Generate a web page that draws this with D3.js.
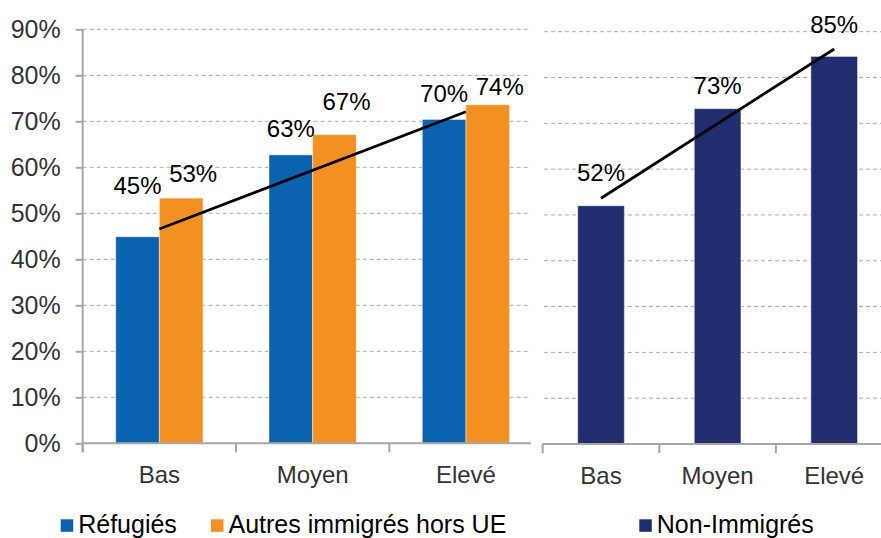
<!DOCTYPE html>
<html>
<head>
<meta charset="utf-8">
<script src="https://cdn.jsdelivr.net/npm/d3@7"></script>
<style>
  body { margin: 0; background: #fff; }
  text { font-family: "Liberation Sans", Arial, sans-serif; }
</style>
</head>
<body>
<script>
// data
var categories = ["Bas", "Moyen", "Elevé"];
var refugies = [44.9, 62.7, 70.4];
var autresHorsUE = [53.3, 67.1, 73.6];
var nonImmigres = [52.0, 73.2, 84.6];
var yTicks = [0, 10, 20, 30, 40, 50, 60, 70, 80, 90];
var legendNames = ["Réfugiés", "Autres immigrés hors UE", "Non-Immigrés"];

var blue = "#0B63B0", orange = "#F29121", navy = "#202D6E";
var gridColor = "#ababab", axisColor = "#a6a6a6", tickText = "#333";

// labels were hand placed in the original, gap above each bar in px
var liftRef = [43, 18, 17], liftAutres = [16, 25, 10], liftNon = [25, 15, 23];

var width = 881, height = 538;

var svg = d3.select("body").append("svg")
    .attr("width", width)
    .attr("height", height);

// scales
var yL = d3.scaleLinear().domain([0, 90]).range([443.3, 29.3]);
var yR = d3.scaleLinear().domain([0, 90]).range([444, 31.7]);
var xL = d3.scaleBand().domain(categories).range([82.7, 542.6]);
var xPair = d3.scaleBand().domain(["r", "a"]).range([0, xL.bandwidth()]).paddingOuter(0.756);
var xR = d3.scaleBand().domain(categories).range([542.7, 892.5]).paddingInner(0.6).paddingOuter(0.3);

// gridlines
svg.append("g").selectAll("line").data(yTicks.slice(1)).enter().append("line")
    .attr("x1", 82.7).attr("x2", 531)
    .attr("y1", d => yL(d)).attr("y2", d => yL(d))
    .attr("stroke", gridColor).attr("stroke-dasharray", "4,3");
svg.append("g").selectAll("line").data(yTicks.slice(1)).enter().append("line")
    .attr("x1", 544).attr("x2", width)
    .attr("y1", d => yR(d)).attr("y2", d => yR(d))
    .attr("stroke", gridColor).attr("stroke-dasharray", "4,3");

// bars
function drawBars(vals, xpos, w, scaleY, color) {
	svg.append("g").selectAll("rect").data(vals).enter().append("rect")
		.attr("x", (d, i) => xpos(i))
		.attr("width", w)
		.attr("y", d => scaleY(d))
		.attr("height", d => scaleY(0) - scaleY(d))
		.attr("fill", color)
		.attr("stroke", "rgba(255,255,255,0.45)")
		.attr("stroke-width", 1);
}
drawBars(refugies, i => xL(categories[i]) + xPair("r"), xPair.bandwidth(), yL, blue);
drawBars(autresHorsUE, i => xL(categories[i]) + xPair("a"), xPair.bandwidth(), yL, orange);
drawBars(nonImmigres, i => xR(categories[i]), xR.bandwidth(), yR, navy);

// value labels
function drawLabels(vals, xpos, scaleY, lift) {
	svg.append("g").selectAll("text").data(vals).enter().append("text")
		.attr("x", (d, i) => xpos(i))
		.attr("y", (d, i) => scaleY(d) - lift[i])
		.attr("text-anchor", "middle")
		.attr("font-size", 24)
		.attr("fill", "#000")
		.text(d => Math.round(d) + "%");
}
drawLabels(refugies, i => xL(categories[i]) + xPair("r") + xPair.bandwidth() / 2, yL, liftRef);
drawLabels(autresHorsUE, i => xL(categories[i]) + xPair("a") + xPair.bandwidth() / 2 + 12, yL, liftAutres);
drawLabels(nonImmigres, i => xR(categories[i]) + xR.bandwidth() / 2, yR, liftNon);

// linear trend (least squares over category index)
function trend(vals) {
	var n = vals.length;
	var mx = d3.mean(vals, (d, i) => i), my = d3.mean(vals);
	var sxy = d3.sum(vals, (d, i) => (i - mx) * (d - my));
	var sxx = d3.sum(vals, (d, i) => (i - mx) * (i - mx));
	var b = sxy / sxx, a = my - b * mx;
	return [0, n - 1].map(i => [i, a + b * i]);
}
var line = d3.line();
svg.append("path")
    .attr("d", line(trend(refugies).map(p => [xL(categories[p[0]]) + xL.bandwidth() / 2, yL(p[1])])))
    .attr("stroke", "#000").attr("stroke-width", 2.8).attr("fill", "none");
svg.append("path")
    .attr("d", line(trend(nonImmigres).map(p => [xR(categories[p[0]]) + xR.bandwidth() / 2, yR(p[1])])))
    .attr("stroke", "#000").attr("stroke-width", 2.8).attr("fill", "none");

// y axis (left panel only)
var yAxis = svg.append("g")
    .attr("transform", "translate(82.7,0)")
    .call(d3.axisLeft(yL).tickValues(yTicks).tickSize(7).tickPadding(15).tickFormat(d => d + "%"));
yAxis.select(".domain").remove();
yAxis.selectAll("line").attr("stroke", axisColor).attr("stroke-width", 2);
yAxis.selectAll("text").attr("font-size", 25).attr("fill", tickText)
    .style("font-family", "'Liberation Sans', Arial, sans-serif");
svg.append("line")
    .attr("x1", 82.7).attr("x2", 82.7).attr("y1", yL(90)).attr("y2", yL(0) + 9)
    .attr("stroke", axisColor).attr("stroke-width", 2);

// x axes
function xAxis(scale, x0, x1, y0, bounds) {
	svg.append("line")
		.attr("x1", x0).attr("x2", x1).attr("y1", y0).attr("y2", y0)
		.attr("stroke", axisColor).attr("stroke-width", 2);
	svg.append("g").selectAll("line").data(bounds).enter().append("line")
		.attr("x1", d => d).attr("x2", d => d)
		.attr("y1", y0).attr("y2", y0 + 9)
		.attr("stroke", axisColor).attr("stroke-width", 2);
	var g = svg.append("g")
		.attr("transform", "translate(0," + y0 + ")")
		.call(d3.axisBottom(scale).tickSize(0));
	g.select(".domain").remove();
	g.selectAll("text").attr("y", 40).attr("dy", 0)
		.attr("font-size", 24).attr("fill", tickText)
		.style("font-family", "'Liberation Sans', Arial, sans-serif");
}
xAxis(xL, 82.7, 531, yL(0), categories.map(c => xL(c)));
xAxis(xR, 542.7, width, yR(0), categories.map(c => xR(c) + xR.bandwidth() / 2 - xR.step() / 2));

// legend
var legendX = [60.7, 211, 639.3];
var legendColors = [blue, orange, navy];
var leg = svg.append("g").selectAll("g").data(legendNames).enter().append("g")
    .attr("transform", (d, i) => "translate(" + legendX[i] + ",519.3)");
leg.append("rect").attr("width", 12.5).attr("height", 12.5).attr("fill", (d, i) => legendColors[i]);
leg.append("text").attr("x", 17.5).attr("y", 14)
    .attr("font-size", 25).attr("fill", "#000")
    .text(d => d);
</script>
</body>
</html>
